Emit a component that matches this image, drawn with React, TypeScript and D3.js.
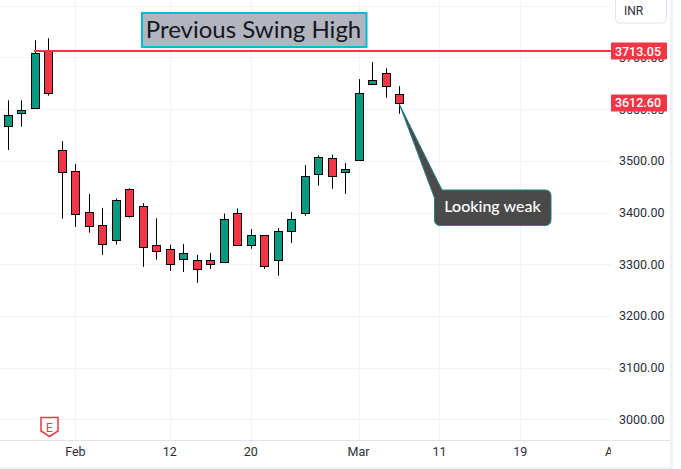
import React, { useEffect, useRef } from 'react';
import * as d3 from 'd3';

// daily candles
const opens = [3568, 3593, 3602.5, 3715, 3520, 3480, 3402, 3375, 3346, 3445, 3412, 3336.5, 3329, 3311, 3307.5, 3307.5, 3304, 3400, 3338, 3356, 3309, 3364, 3399.5, 3474, 3505, 3478, 3501, 3648, 3669, 3630];
const highs = [3617, 3617, 3733, 3737, 3538, 3494, 3436, 3409, 3427, 3447, 3418, 3389, 3338, 3339, 3318, 3322, 3398, 3408, 3368, 3356, 3370, 3401, 3492, 3510.5, 3512, 3496, 3658, 3691, 3679, 3644.5];
const lows = [3521, 3566, 3601, 3626, 3388, 3372, 3361, 3318, 3338, 3390, 3295, 3309, 3287, 3285, 3264, 3291, 3304, 3336, 3330, 3291, 3278, 3341, 3394, 3452, 3446, 3436, 3501, 3648, 3622, 3591];
const closes = [3588, 3599, 3708, 3632, 3479, 3398, 3374, 3340, 3423.5, 3394, 3334, 3325, 3300, 3321, 3290, 3300, 3387, 3338, 3356, 3296, 3364, 3387, 3470, 3507, 3470, 3485, 3632, 3655.5, 3644, 3612.6];

const priceTicks = [3000, 3100, 3200, 3300, 3400, 3500, 3600, 3700, 3800];
const timeTickIndex = [-1.3, 5, 12, 18, 26, 32, 38, 45];
const timeTickLabels = ['24', 'Feb', '12', '20', 'Mar', '11', '19', 'Apr'];

const swingHigh = 3713.05;
const lastClose = 3612.6;
const swingHighStart = 2;
const lastIndex = 29;

const width = 681;
const height = 469;
const paneRight = 611;
const axisY = 440.5;
const badgeRight = 667;

const green = '#089981';
const red = '#f23645';
const gridColor = '#f0f3fa';
const borderColor = '#e0e3eb';
const textColor = '#131722';
const axisTextColor = '#2a2e39';
const uiFont = 'Roboto, sans-serif';

export default function App() {
    const svgRef = useRef<SVGSVGElement>(null);

    useEffect(() => {
        const svg = d3.select(svgRef.current);
        svg.selectAll('*').remove();

        const x = d3.scaleLinear().domain([0, 29]).range([8.5, 399.5]);
        const y = d3.scaleLinear().domain([3000, 3700]).range([419.4, 57.4]);
        const crispX = (i: number) => Math.floor(x(i)) + 0.5;
        const crispY = (v: number) => Math.round(y(v)) + 0.5;

        svg.append('defs').append('clipPath').attr('id', 'pane')
            .append('rect').attr('x', 0).attr('y', 0).attr('width', paneRight).attr('height', height);

        // grid
        const grid = svg.append('g').attr('clip-path', 'url(#pane)');
        grid.selectAll('line.h').data(priceTicks).join('line')
            .attr('class', 'h')
            .attr('x1', 0).attr('x2', paneRight)
            .attr('y1', d => crispY(d)).attr('y2', d => crispY(d))
            .attr('stroke', gridColor);
        grid.selectAll('line.v').data(timeTickIndex).join('line')
            .attr('class', 'v')
            .attr('x1', d => crispX(d)).attr('x2', d => crispX(d))
            .attr('y1', 0).attr('y2', axisY)
            .attr('stroke', gridColor);

        // outer frame bits
        svg.append('line').attr('x1', 0).attr('x2', paneRight).attr('y1', axisY).attr('y2', axisY).attr('stroke', borderColor);
        svg.append('line').attr('x1', paneRight + 1).attr('x2', 671).attr('y1', axisY).attr('y2', axisY).attr('stroke', borderColor);
        svg.append('rect').attr('x', 670).attr('y', 0).attr('width', 3).attr('height', height).attr('fill', '#f0f0f7');
        svg.append('rect').attr('x', 0).attr('y', 467).attr('width', 673).attr('height', 2).attr('fill', '#f0f0f7');

        // candles
        const candles = svg.append('g').selectAll('g').data(d3.range(opens.length)).join('g');
        candles.append('line')
            .attr('x1', i => crispX(i)).attr('x2', i => crispX(i))
            .attr('y1', i => y(highs[i])).attr('y2', i => y(lows[i]))
            .attr('stroke', '#000');
        candles.append('rect')
            .attr('x', i => crispX(i) - 4)
            .attr('width', 8)
            .attr('y', i => crispY(Math.max(opens[i], closes[i])))
            .attr('height', i => Math.round(y(Math.min(opens[i], closes[i]))) - Math.round(y(Math.max(opens[i], closes[i]))))
            .attr('fill', i => closes[i] >= opens[i] ? green : red)
            .attr('stroke', '#000');

        // price axis
        const priceAxis = svg.append('g')
            .attr('transform', 'translate(619,0)')
            .call(d3.axisRight(y).tickValues(priceTicks).tickFormat(d => d3.format('.2f')(d as number)).tickSize(0).tickPadding(0));
        priceAxis.select('.domain').remove();
        priceAxis.selectAll('text').attr('font-family', uiFont).attr('font-size', 12.5).attr('fill', axisTextColor).attr('x', 0);

        // time axis
        const timeAxis = svg.append('g')
            .attr('clip-path', 'url(#pane)')
            .append('g')
            .attr('transform', `translate(0,${axisY})`)
            .call(d3.axisBottom(x).tickValues(timeTickIndex).tickFormat((_, i) => timeTickLabels[i]).tickSize(0).tickPadding(7));
        timeAxis.select('.domain').remove();
        timeAxis.selectAll('text').attr('font-family', uiFont).attr('font-size', 12.5).attr('fill', axisTextColor).attr('dx', -1);

        // swing high line
        svg.append('line')
            .attr('x1', x(swingHighStart) - 1.5).attr('x2', paneRight)
            .attr('y1', Math.round(y(swingHigh))).attr('y2', Math.round(y(swingHigh)))
            .attr('stroke', red).attr('stroke-width', 2);

        // price badges
        [swingHigh, lastClose].forEach(v => {
            const cy = y(v) + 0.4;
            svg.append('rect')
                .attr('x', paneRight).attr('y', cy - 8.5).attr('width', badgeRight - paneRight).attr('height', 17)
                .attr('rx', 1).attr('fill', red);
            svg.append('text')
                .attr('x', 661).attr('y', cy + 4.5).attr('text-anchor', 'end')
                .attr('font-family', uiFont).attr('font-size', 12.5).attr('font-weight', 500).attr('fill', '#fff')
                .text(d3.format('.2f')(v));
        });

        // currency button
        svg.append('rect')
            .attr('x', 615.5).attr('y', -6).attr('width', 51).attr('height', 29).attr('rx', 4)
            .attr('fill', '#fff').attr('stroke', borderColor);
        svg.append('text')
            .attr('x', 624).attr('y', 15)
            .attr('font-family', uiFont).attr('font-size', 12).attr('fill', axisTextColor)
            .text('INR');

        // title note
        svg.append('rect')
            .attr('x', 142).attr('y', 13).attr('width', 224.5).attr('height', 34)
            .attr('fill', '#b2b5be').attr('stroke', '#00bcd4').attr('stroke-width', 2);
        svg.append('text')
            .attr('x', 253.5).attr('y', 37.5).attr('text-anchor', 'middle')
            .attr('font-family', 'Lato, sans-serif').attr('font-size', 24).attr('fill', textColor)
            .text('Previous Swing High');

        // callout
        const boxL = 434.5, boxR = 551, boxT = 190, boxB = 225.5, r = 6;
        const tipX = x(lastIndex), tipY = y(lastClose) + 2;
        const path = d3.path();
        path.moveTo(442, boxT);
        path.lineTo(boxR - r, boxT);
        path.quadraticCurveTo(boxR, boxT, boxR, boxT + r);
        path.lineTo(boxR, boxB - r);
        path.quadraticCurveTo(boxR, boxB, boxR - r, boxB);
        path.lineTo(boxL + r, boxB);
        path.quadraticCurveTo(boxL, boxB, boxL, boxB - r);
        path.lineTo(boxL, 198);
        path.lineTo(tipX, tipY);
        path.closePath();
        svg.append('path').attr('d', path.toString())
            .attr('fill', '#4a4a4a').attr('stroke', '#1f7f88').attr('stroke-width', 1);
        svg.append('text')
            .attr('x', 492.5).attr('y', 212).attr('text-anchor', 'middle')
            .attr('font-family', 'Lato, sans-serif').attr('font-size', 16).attr('font-weight', 500).attr('fill', '#fff')
            .text('Looking weak');

        // earnings marker
        const e = d3.path();
        e.moveTo(41, 417.5); e.lineTo(58, 417.5); e.lineTo(58, 431); e.lineTo(49.5, 436.5); e.lineTo(41, 431); e.closePath();
        svg.append('path').attr('d', e.toString()).attr('fill', '#fff').attr('stroke', red).attr('stroke-width', 1.5);
        svg.append('text')
            .attr('x', 49.5).attr('y', 432).attr('text-anchor', 'middle')
            .attr('font-family', uiFont).attr('font-size', 12).attr('fill', red)
            .text('E');
    }, []);

    return (
        <svg ref={svgRef} width={width} height={height}
            style={{ position: 'absolute', left: 0, top: 0, display: 'block', background: '#fff' }} />
    );
}
